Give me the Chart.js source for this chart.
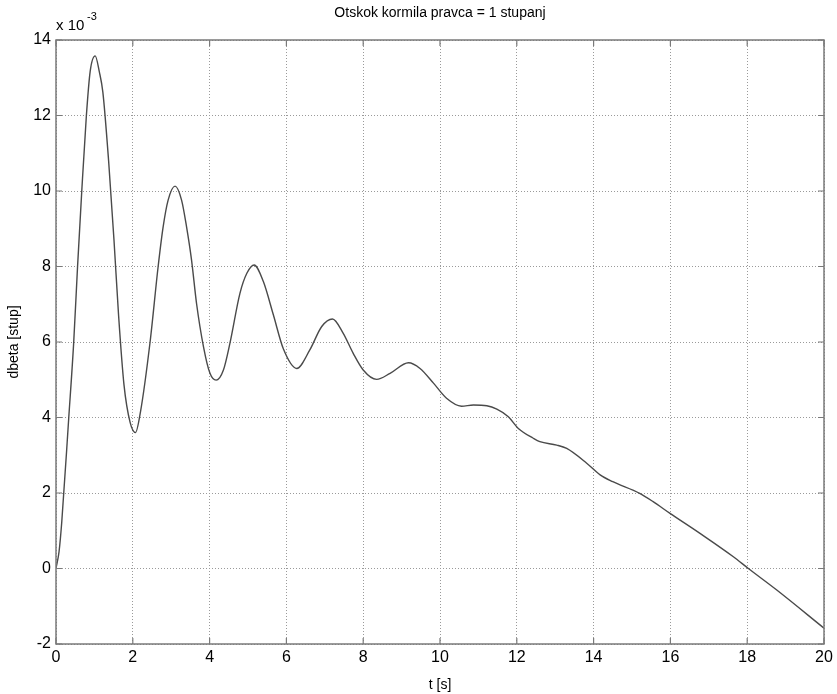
<!DOCTYPE html>
<html>
<head>
<meta charset="utf-8">
<script src="https://cdn.jsdelivr.net/npm/chart.js@4.4.1/dist/chart.umd.min.js"></script>
<style>
  html, body { margin: 0; padding: 0; background: #fff; }
  #wrap { width: 837px; height: 694px; }
</style>
</head>
<body>
<div id="wrap"><canvas id="chart" width="837" height="694"></canvas></div>
<script>
// time [s]
const tValues = [0, 0.08, 0.15, 0.33, 0.46, 0.56, 0.67, 0.79, 0.89, 1.02, 1.13, 1.22, 1.37, 1.51, 1.63, 1.77, 1.93, 2.07, 2.2,
  2.45, 2.66, 2.79, 2.92, 3.1, 3.27, 3.4, 3.53, 3.66, 3.84, 4.01, 4.17, 4.36, 4.53, 4.79, 4.97, 5.16, 5.4, 5.66, 5.92,
  6.27, 6.61, 6.92, 7.2, 7.48, 7.74, 8.0, 8.35, 8.7, 9.18, 9.48, 9.83, 10.17, 10.56, 10.87, 11.22, 11.48, 11.78, 12.04, 12.43,
  12.6, 13.04, 13.3, 13.82, 14.17, 14.5, 15.2, 15.55, 15.99, 16.77, 17.64, 18.03, 18.77, 20];
// dbeta [stup], in units of 10^-3
const dbetaValues = [0, 0.45, 1.23, 3.96, 5.97, 7.97, 9.98, 11.98, 13.17, 13.58, 13.15, 12.62, 10.8, 8.7, 6.7, 4.87, 3.87, 3.6, 4.15,
  6.0, 8.0, 9.05, 9.76, 10.13, 9.76, 9.05, 8.17, 7.02, 5.88, 5.17, 4.99, 5.26, 5.97, 7.29, 7.82, 8.04, 7.6, 6.72, 5.82,
  5.3, 5.79, 6.41, 6.61, 6.23, 5.7, 5.26, 5.01, 5.17, 5.45, 5.3, 4.91, 4.51, 4.30, 4.33, 4.31, 4.22, 4.02, 3.71, 3.45,
  3.36, 3.27, 3.18, 2.79, 2.48, 2.30, 1.99, 1.77, 1.46, 0.93, 0.31, 0.0, -0.57, -1.58];

const xTicks = [0, 2, 4, 6, 8, 10, 12, 14, 16, 18, 20];
const yTicks = [-2, 0, 2, 4, 6, 8, 10, 12, 14];

const titleText = 'Otskok kormila pravca = 1 stupanj';
const xTitle = 't [s]';
const yTitle = 'dbeta [stup]';

const points = tValues.map((t, i) => ({ x: t, y: dbetaValues[i] }));

// box around the plot + small inward ticks + title + exponent label
const frame = {
  id: 'frame',
  afterDatasetsDraw(chart) {
    const { ctx, chartArea: a, scales } = chart;
    ctx.save();
    ctx.strokeStyle = '#7a7a7a';
    ctx.lineWidth = 1.5;
    ctx.strokeRect(a.left, a.top, a.right - a.left, a.bottom - a.top);
    ctx.lineWidth = 1.2;
    ctx.beginPath();
    for (const v of xTicks) {
      const px = scales.x.getPixelForValue(v);
      ctx.moveTo(px, a.bottom); ctx.lineTo(px, a.bottom - 6);
      ctx.moveTo(px, a.top); ctx.lineTo(px, a.top + 6);
    }
    for (const v of yTicks) {
      const py = scales.y.getPixelForValue(v);
      ctx.moveTo(a.left, py); ctx.lineTo(a.left + 6, py);
      ctx.moveTo(a.right, py); ctx.lineTo(a.right - 6, py);
    }
    ctx.stroke();
    ctx.restore();
  },
  afterDraw(chart) {
    const { ctx, chartArea: a } = chart;
    ctx.save();
    ctx.fillStyle = '#000';
    ctx.font = '14px "Liberation Sans", Arial, sans-serif';
    ctx.textAlign = 'center';
    ctx.textBaseline = 'middle';
    ctx.fillText(titleText, (a.left + a.right) / 2, 13);
    ctx.textAlign = 'left';
    ctx.font = '15px "Liberation Sans", Arial, sans-serif';
    ctx.fillText('x 10', a.left, 26);
    ctx.font = '11px "Liberation Sans", Arial, sans-serif';
    ctx.fillText('-3', a.left + 31, 17);
    ctx.restore();
  }
};

new Chart('chart', {
  type: 'line',
  data: {
    datasets: [{
      data: points,
      borderColor: '#4a4a4a',
      borderWidth: 1.4,
      pointRadius: 0,
      fill: false,
      cubicInterpolationMode: 'monotone'
    }]
  },
  options: {
    responsive: false,
    animation: false,
    events: [],
    layout: { padding: { top: 40, right: 13, left: 0, bottom: 0 } },
    plugins: { legend: { display: false }, tooltip: { enabled: false }, title: { display: false } },
    scales: {
      x: {
        type: 'linear',
        min: 0, max: 20,
        afterFit(scale) { scale.height = 50; },
        afterBuildTicks(scale) { scale.ticks = xTicks.map(v => ({ value: v })); },
        ticks: { color: '#000', font: { size: 16, family: '"Liberation Sans", Arial, sans-serif' }, padding: 4, maxRotation: 0 },
        grid: { color: '#9a9a9a', lineWidth: 1, drawTicks: false },
        border: { display: false, dash: [1, 2] },
        title: { display: true, text: xTitle, color: '#000', padding: { top: 2, bottom: 0 },
          font: { size: 14, family: '"Liberation Sans", Arial, sans-serif' } }
      },
      y: {
        type: 'linear',
        min: -2, max: 14,
        afterFit(scale) { scale.width = 56; },
        afterBuildTicks(scale) { scale.ticks = yTicks.map(v => ({ value: v })); },
        ticks: { color: '#000', font: { size: 16, family: '"Liberation Sans", Arial, sans-serif' }, padding: 5 },
        grid: { color: '#9a9a9a', lineWidth: 1, drawTicks: false },
        border: { display: false, dash: [1, 2] },
        title: { display: true, text: yTitle, color: '#000', padding: { top: 6, bottom: 0 },
          font: { size: 14, family: '"Liberation Sans", Arial, sans-serif' } }
      }
    }
  },
  plugins: [frame]
});
</script>
</body>
</html>
